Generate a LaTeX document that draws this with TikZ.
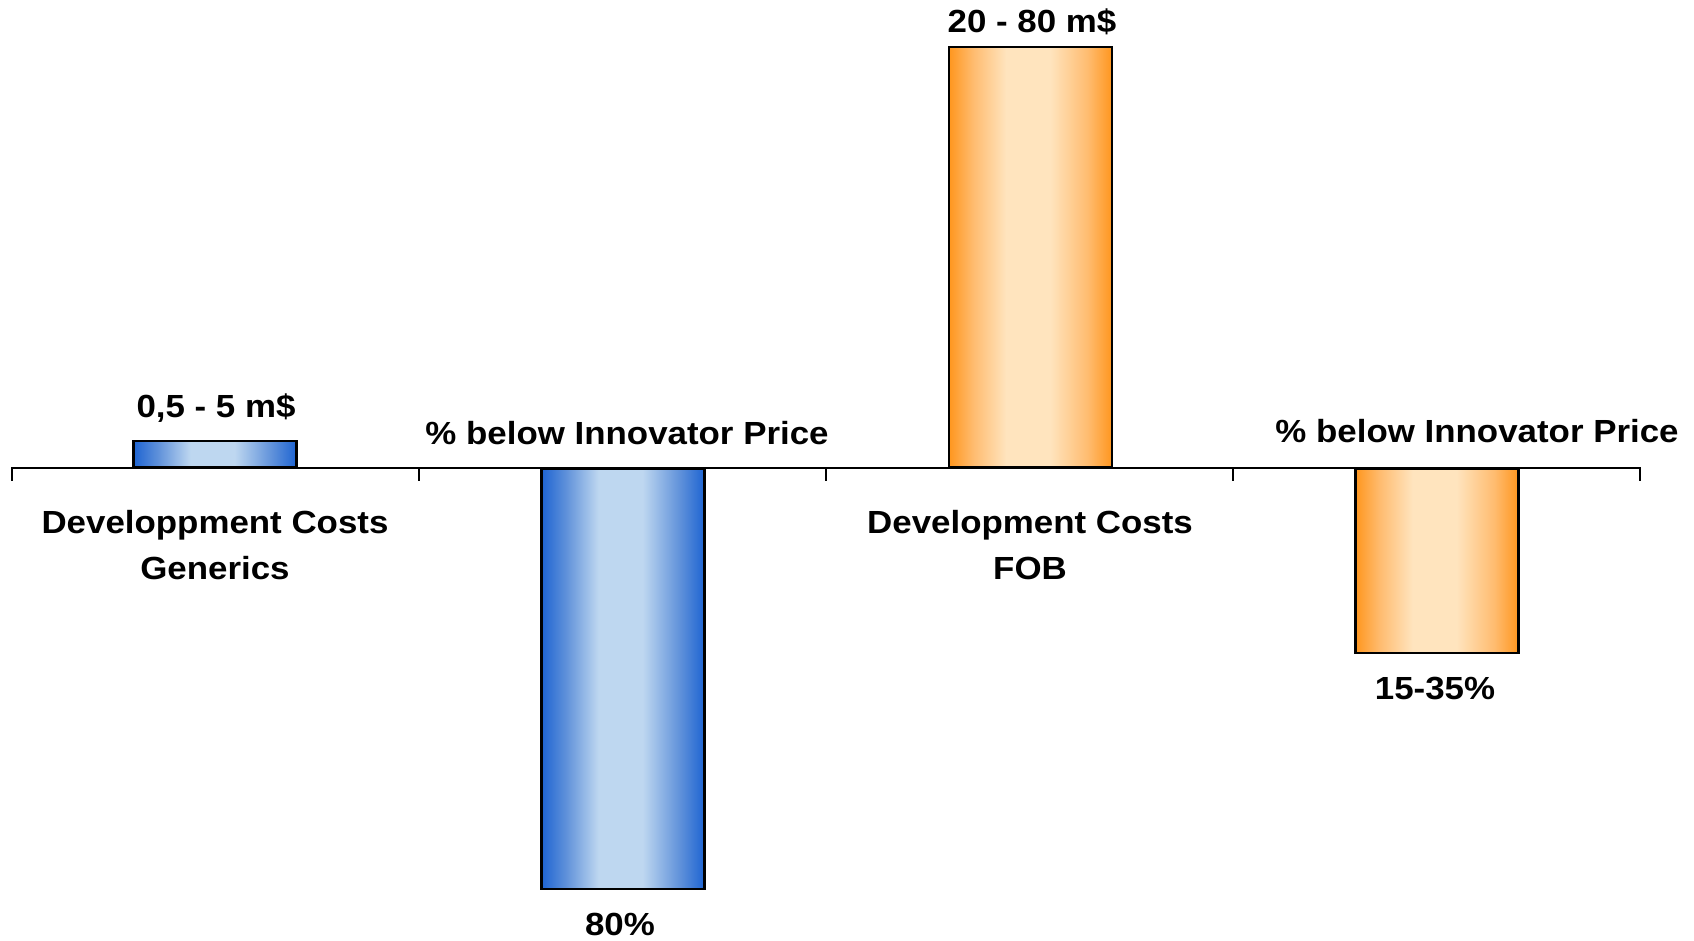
\documentclass[tikz,border=0pt]{standalone}
\usepackage{fontspec}
\setmainfont{Liberation Sans}[FakeStretch=1.09]
\definecolor{bdark}{RGB}{30,100,210}
\definecolor{bmid}{RGB}{95,145,218}
\definecolor{blight}{RGB}{190,215,240}
\definecolor{odark}{RGB}{255,150,30}
\definecolor{omid}{RGB}{255,188,112}
\definecolor{olight}{RGB}{255,228,190}
\pgfdeclarehorizontalshading{blueshade}{100bp}{color(0bp)=(bdark); color(25bp)=(bdark); color(32.5bp)=(bmid); color(42.5bp)=(blight); color(56bp)=(blight); color(67.5bp)=(bmid); color(75bp)=(bdark); color(100bp)=(bdark)}
\pgfdeclarehorizontalshading{orangeshade}{100bp}{color(0bp)=(odark); color(25bp)=(odark); color(32.5bp)=(omid); color(42.5bp)=(olight); color(56bp)=(olight); color(67.5bp)=(omid); color(75bp)=(odark); color(100bp)=(odark)}
\begin{document}
\begin{tikzpicture}[x=1pt,y=1pt,
  bar/.style={draw=black, line width=2.2pt, rectangle, inner sep=0pt, minimum width=163pt},
  bluebar/.style={bar, shading=blueshade},
  orangebar/.style={bar, shading=orangeshade},
  lbl/.style={font=\fontsize{32}{46}\selectfont\bfseries, inner sep=0pt, anchor=base},
  cat/.style={font=\fontsize{32}{46}\selectfont\bfseries, inner sep=0pt, anchor=north, align=center},
  axisline/.style={line width=2pt, black}]
\useasboundingbox (0,0) rectangle (1694,940);
% axis
\coordinate (a0) at (12,472);
\coordinate (a1) at (419,472);
\coordinate (a2) at (826,472);
\coordinate (a3) at (1233,472);
\coordinate (a4) at (1640,472);
\coordinate (t0) at (12,459);
\coordinate (t1) at (419,459);
\coordinate (t2) at (826,459);
\coordinate (t3) at (1233,459);
\coordinate (t4) at (1640,459);
\draw[axisline] (t0) -- (a0) -- (a4) -- (t4);
\draw[axisline] (a1) -- (t1);
\draw[axisline] (a2) -- (t2);
\draw[axisline] (a3) -- (t3);
% bars
\node[bluebar, minimum height=26pt, anchor=south] (b1) at (215,472) {};
\node[bluebar, minimum height=420pt, anchor=north] (b2) at (623,472) {};
\node[orangebar, minimum height=420pt, anchor=south] (b3) at (1030.5,472) {};
\node[orangebar, minimum height=184pt, anchor=north] (b4) at (1437,472) {};
% value labels
\node[lbl] (v1) at (216,522) {0,5 - 5 m\$};
\node[lbl] (p1) at (627,495) {\% below Innovator Price};
\node[lbl] (v2) at (620,5) {80\%};
\node[lbl] (v3) at (1032,907) {20 - 80 m\$};
\node[lbl] (p2) at (1477,497) {\% below Innovator Price};
\node[lbl] (v4) at (1435,240) {15-35\%};
% category labels
\node[cat] (c1) at (215,430) {Developpment Costs\\Generics};
\node[cat] (c2) at (1030,430) {Development Costs\\FOB};
\end{tikzpicture}
\end{document}
